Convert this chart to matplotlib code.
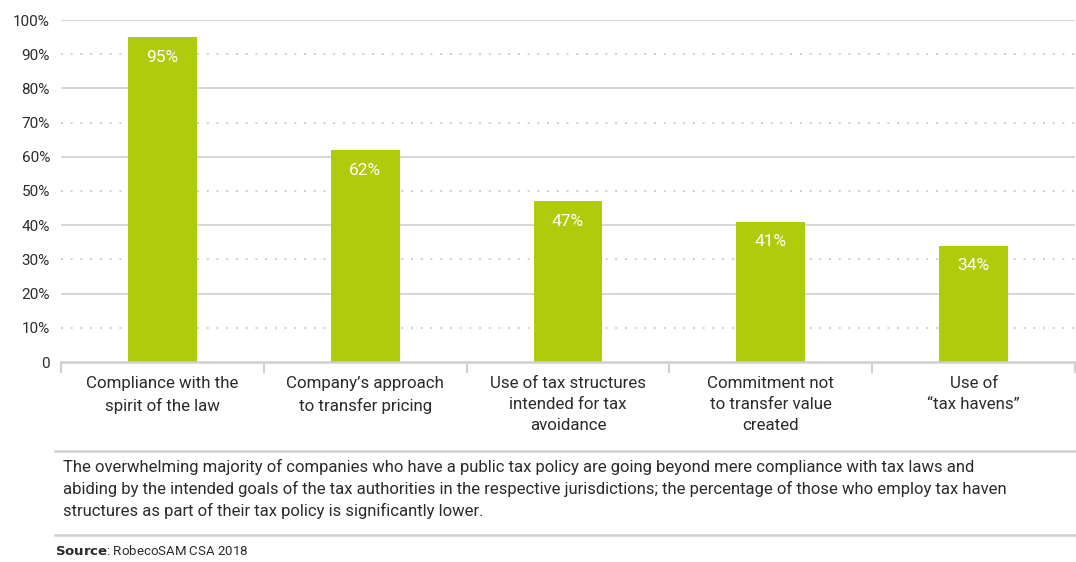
import matplotlib
matplotlib.use("Agg")
import matplotlib.pyplot as plt
from matplotlib.lines import Line2D

categories = [
    "Compliance with the\nspirit of the law",
    "Company\u2019s approach\nto transfer pricing",
    "Use of tax structures\nintended for tax\navoidance",
    "Commitment not\nto transfer value\ncreated",
    "Use of\n\u201ctax havens\u201d",
]
values = [95, 62, 47, 41, 34]
y_ticks = [0, 10, 20, 30, 40, 50, 60, 70, 80, 90, 100]
y_tick_labels = ["0"] + [f"{v}%" for v in y_ticks[1:]]
caption = ("The overwhelming majority of companies who have a public tax policy are going beyond mere compliance with tax laws and\n"
           "abiding by the intended goals of the tax authorities in the respective jurisdictions; the percentage of those who employ tax haven\n"
           "structures as part of their tax policy is significantly lower.")

plt.rcParams["font.family"] = ["Roboto", "DejaVu Sans"]

GREEN = "#b0ca0c"
TEXT = "#2b2b2b"
GRID = "#cfcfcf"

fig = plt.figure(figsize=(10.76, 5.62), dpi=100)
ax = fig.add_axes([61 / 1076, 1 - 362 / 562, 1014 / 1076, 342 / 562])

x = list(range(len(values)))
ax.set_xlim(-0.5, len(values) - 0.5)
ax.set_ylim(0, 100)

# horizontal guides: solid at even tens, dotted at odd tens
for v in y_ticks[1:]:
    if v % 20 == 0:
        ax.axhline(v, color=GRID, lw=1.2, zorder=0)
    else:
        ax.axhline(v, color=GRID, lw=1.4, ls=(0, (1, 4)), zorder=0)

bars = ax.bar(x, values, width=0.34, color=GREEN, zorder=2)
for xi, v in zip(x, values):
    ax.annotate(f"{v}%", (xi, v), xytext=(0, -14.5), textcoords="offset points",
                ha="center", va="center", color="white", fontsize=12.5, zorder=3)

ax.set_yticks(y_ticks)
ax.set_yticklabels(y_tick_labels, fontsize=11, color=TEXT)
ax.tick_params(axis="y", length=0, pad=8)

ax.set_xticks(x)
ax.set_xticklabels(categories, fontsize=12.2, color=TEXT, linespacing=1.52)
ax.tick_params(axis="x", length=0, pad=10)
# separator ticks between categories
ax.set_xticks([i - 0.5 for i in range(len(values) + 1)], minor=True)
ax.tick_params(axis="x", which="minor", length=8, width=1.5, color=GRID, direction="out")

for s in ["top", "right", "left"]:
    ax.spines[s].set_visible(False)
ax.spines["bottom"].set_color(GRID)
ax.spines["bottom"].set_linewidth(1.8)

# caption box rules
fig.add_artist(Line2D([55 / 1076, 1.0], [1 - 451 / 562] * 2, color=GRID, lw=1.8))
fig.add_artist(Line2D([55 / 1076, 1.0], [1 - 535 / 562] * 2, color=GRID, lw=1.8))
fig.text(63 / 1076, 1 - 459 / 562, caption, ha="left", va="top", fontsize=12,
         color=TEXT, linespacing=1.45)
fig.text(55 / 1076, 1 - 551 / 562, r"$\bf{Source}$: RobecoSAM CSA 2018",
         ha="left", va="center", fontsize=9.5, color=TEXT)

fig.savefig("out.png", dpi=100)
